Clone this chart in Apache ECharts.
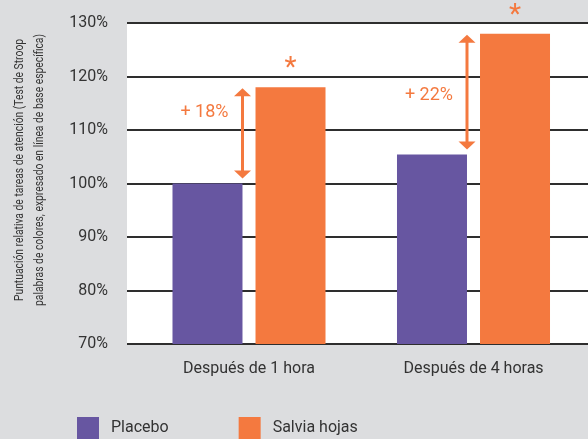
<!DOCTYPE html>
<html>
<head>
<meta charset="utf-8">
<script src="https://cdn.jsdelivr.net/npm/echarts@6/dist/echarts.min.js"></script>
<style>
  html, body { margin: 0; padding: 0; background: #dcdddf; }
  #chart { width: 588px; height: 439px; }
</style>
</head>
<body>
<div id="chart"></div>
<script>
  // datos
  const categories = ['Después de 1 hora', 'Después de 4 horas'];
  const placebo = [100, 105.4];
  const salvia = [118, 128];
  const diffLabels = ['+ 18%', '+ 22%'];
  const diffLabelAt = [113.3, 116.5]; // altura (en %) del texto de diferencia
  const yTicks = { min: 70, max: 130, interval: 10 };

  const purple = '#6756a1';
  const orange = '#f4793f';
  const textColor = '#333';
  const font = 'Roboto, sans-serif';

  const arrowData = placebo.map((v, i) => [i, v, salvia[i], diffLabelAt[i]]);

  const chart = echarts.init(document.getElementById('chart'));
  chart.setOption({
    backgroundColor: '#dcdddf',
    animation: false,
    textStyle: { fontFamily: font },
    grid: [
      // fondo blanco + líneas de cuadrícula
      { left: 127, right: 0, top: 23, bottom: 95, show: true, backgroundColor: '#fff', borderWidth: 0 },
      // barras
      { left: 136.75, right: 2.25, top: 23, bottom: 95 }
    ],
    legend: {
      data: ['Placebo', 'Salvia hojas'],
      left: 77,
      top: 417,
      padding: 0,
      icon: 'rect',
      itemWidth: 22,
      itemHeight: 22,
      itemGap: 70,
      textStyle: { fontSize: 16, color: textColor, fontFamily: font, padding: [0, 0, 0, 7] }
    },
    graphic: [
      {
        type: 'text',
        x: 30,
        y: 170,
        rotation: Math.PI / 2,
        scaleX: 0.86,
        style: {
          text: 'Puntuación relativa de tareas de atención (Test de Stroop\npalabras de colores, expresado en línea de base específica)',
          fill: textColor,
          font: '12px Roboto, sans-serif',
          lineHeight: 20,
          textAlign: 'center',
          textVerticalAlign: 'middle'
        }
      }
    ],
    xAxis: [
      { gridIndex: 0, type: 'category', data: categories, show: false },
      {
        gridIndex: 1,
        type: 'category',
        data: categories,
        axisLine: { show: false },
        axisTick: { show: false },
        axisLabel: { fontSize: 16, color: textColor, margin: 17, fontFamily: font }
      }
    ],
    yAxis: [
      {
        gridIndex: 0,
        type: 'value',
        min: yTicks.min,
        max: yTicks.max,
        interval: yTicks.interval,
        axisLine: { show: false },
        axisTick: { show: false },
        axisLabel: { formatter: '{value}%', fontSize: 16, color: textColor, margin: 19, fontFamily: font },
        splitLine: { show: true, lineStyle: { color: '#2e2e2e', width: 2, type: 'solid' } }
      },
      { gridIndex: 1, type: 'value', min: yTicks.min, max: yTicks.max, show: false, splitLine: { show: false } }
    ],
    series: [
      {
        name: 'Placebo',
        type: 'bar',
        xAxisIndex: 1,
        yAxisIndex: 1,
        barWidth: 70,
        barGap: '18.6%',
        itemStyle: { color: purple },
        data: placebo
      },
      {
        name: 'Salvia hojas',
        type: 'bar',
        xAxisIndex: 1,
        yAxisIndex: 1,
        barWidth: 70,
        itemStyle: { color: orange },
        label: {
          show: true,
          position: 'top',
          formatter: '*',
          distance: 4,
          fontSize: 28,
          color: orange,
          fontFamily: font
        },
        data: salvia
      },
      {
        name: 'diferencia',
        type: 'custom',
        xAxisIndex: 1,
        yAxisIndex: 1,
        clip: false,
        z: 10,
        silent: true,
        renderItem: function (params, api) {
          const lo = api.coord([api.value(0), api.value(1)]);
          const hi = api.coord([api.value(0), api.value(2)]);
          const lab = api.coord([api.value(0), api.value(3)]);
          const x = lo[0] - 6.5;
          const yTop = hi[1] + 1;
          const yBot = lo[1] - 5;
          const ah = 8, aw = 8.5;
          return {
            type: 'group',
            children: [
              { type: 'line', shape: { x1: x, y1: yTop + ah - 1, x2: x, y2: yBot - ah + 1 }, style: { stroke: orange, lineWidth: 3 } },
              { type: 'polygon', shape: { points: [[x, yTop], [x - aw, yTop + ah], [x + aw, yTop + ah]] }, style: { fill: orange } },
              { type: 'polygon', shape: { points: [[x, yBot], [x - aw, yBot - ah], [x + aw, yBot - ah]] }, style: { fill: orange } },
              {
                type: 'text',
                x: x - 14,
                y: lab[1],
                style: {
                  text: diffLabels[params.dataIndex],
                  fill: orange,
                  font: '18px Roboto, sans-serif',
                  textAlign: 'right',
                  textVerticalAlign: 'middle'
                }
              }
            ]
          };
        },
        data: arrowData
      }
    ]
  });
</script>
</body>
</html>
